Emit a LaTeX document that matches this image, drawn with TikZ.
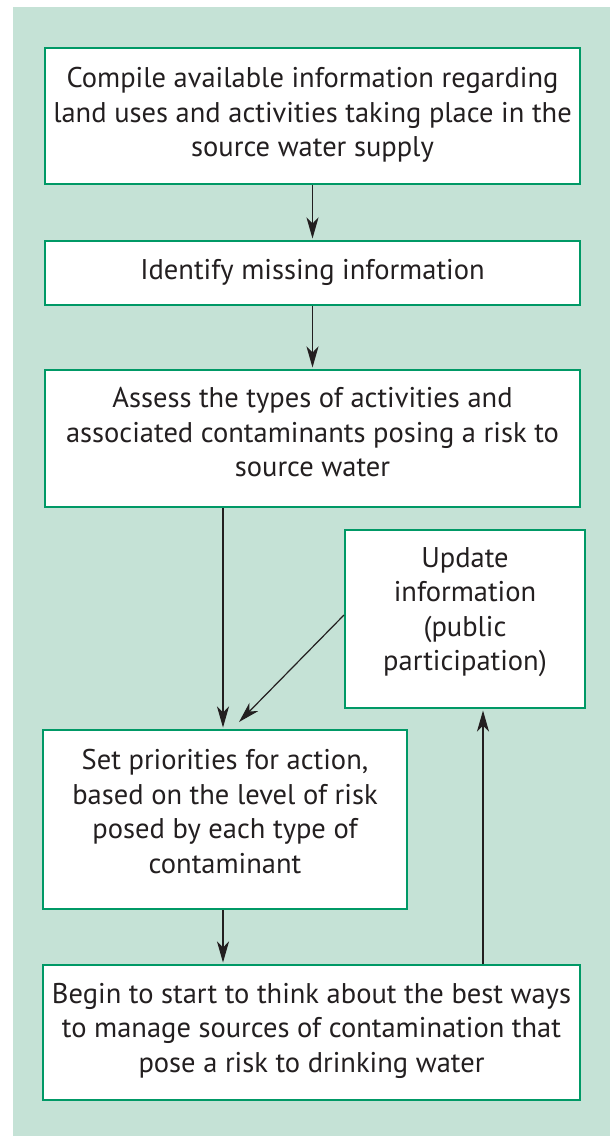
\documentclass[tikz,border=0pt]{standalone}
\usepackage{fontspec}
\setmainfont{PT Sans}
\usetikzlibrary{arrows.meta}
\definecolor{bg}{HTML}{C5E2D6}
\definecolor{bd}{HTML}{009966}
\definecolor{tx}{HTML}{231F20}
\begin{document}
\begin{tikzpicture}[x=1pt,y=-1pt,
  box/.style={draw=bd, line width=2pt, fill=white, inner sep=0pt},
  txt/.style={inner sep=0pt, text=tx, align=center, font=\fontsize{28.5}{34.5}\selectfont},
  arr/.style={-{Stealth[length=21pt,width=12pt,inset=6pt]}, line width=1.2pt, draw=tx, shorten >=1.5pt}]
\useasboundingbox (0,0) rectangle (610,1136);
\fill[bg] (13,7) rectangle (610,1136);
\node[box, minimum width=535pt, minimum height=136pt] (b1) at (312.5,116) {};
\node[box, minimum width=535pt, minimum height=64pt] (b2) at (312.5,273) {};
\node[box, minimum width=535pt, minimum height=137pt] (b3) at (312.5,438.5) {};
\node[box, minimum width=240pt, minimum height=178pt] (b4) at (465,619) {};
\node[box, minimum width=364pt, minimum height=179pt] (b5) at (225,819.5) {};
\node[box, minimum width=537pt, minimum height=135pt] (b6) at (311.5,1032.5) {};
\node[txt] (t1) at ([yshift=1pt]b1.center) {Compile available information regarding\\land uses and activities taking place in the\\source water supply};
\node[txt] (t2) at ([yshift=1pt]b2.center) {Identify missing information};
\node[txt] (t3) at ([yshift=6pt]b3.center) {Assess the types of activities and\\associated contaminants posing a risk to\\source water};
\node[txt] (t4) at ([yshift=7pt]b4.center) {Update\\information\\(public\\participation)};
\node[txt] (t5) at ([yshift=8pt]b5.center) {Set priorities for action,\\based on the level of risk\\posed by each type of\\contaminant};
\node[txt] (t6) at ([yshift=2pt]b6.center) {Begin to start to think about the best ways\\to manage sources of contamination that\\pose a risk to drinking water};
\coordinate (c3) at (223,0);
\coordinate (c6) at (483,0);
\coordinate (d2) at (239,722);
\draw[arr] (b1.south) -- (b2.north);
\draw[arr] (b2.south) -- (b3.north);
\draw[arr] (b3.south -| c3) -- (b5.north -| c3);
\draw[arr, shorten >=0pt] ([yshift=4pt]b4.west) -- (d2);
\draw[arr] (b5.south -| c3) -- (b6.north -| c3);
\draw[arr] (b6.north -| c6) -- (b4.south -| c6);
\end{tikzpicture}
\end{document}
